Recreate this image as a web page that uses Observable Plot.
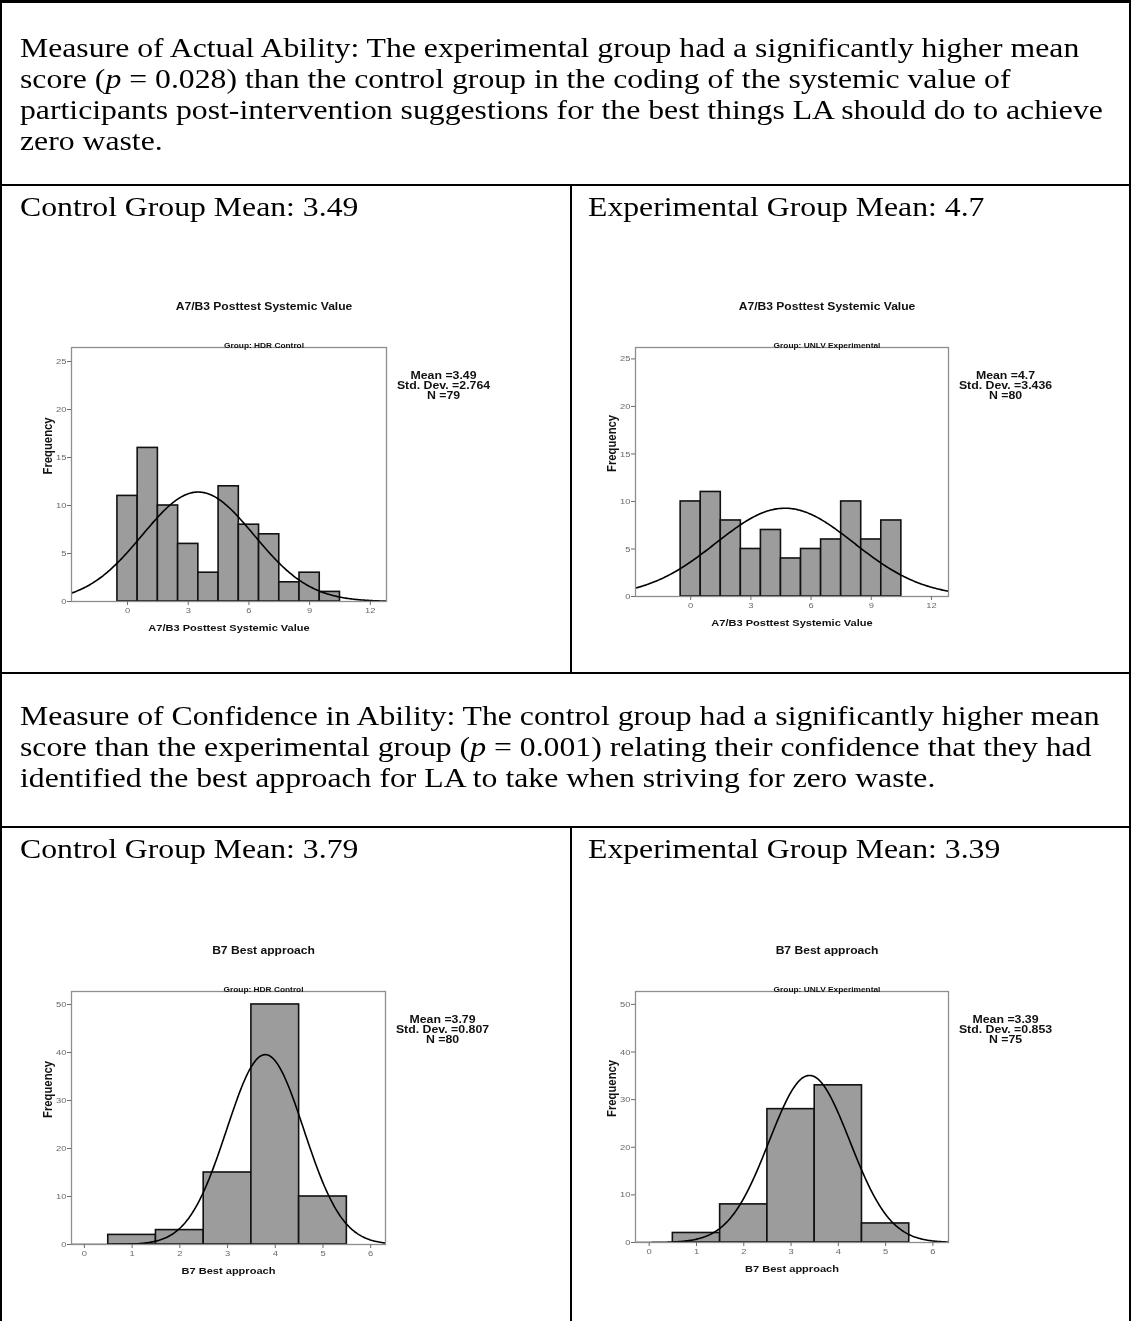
<!DOCTYPE html>
<html>
<head>
<meta charset="utf-8">
<script src="https://cdn.jsdelivr.net/npm/d3@7"></script>
<script src="https://cdn.jsdelivr.net/npm/@observablehq/plot@0.6"></script>
<style>
  html, body { margin: 0; padding: 0; background: #fff; }
  #page { position: relative; width: 1131px; height: 1321px; overflow: hidden;
          font-family: "Liberation Serif", "Times New Roman", serif; color: #000; }
  .rule { position: absolute; background: #000; }
  .txt { position: absolute; font-size: 27px; line-height: 31px; white-space: nowrap;
         transform: scaleX(1.175); transform-origin: 0 0; }
  .chart { position: absolute; filter: blur(0.3px); }
</style>
</head>
<body>
<div id="page"></div>
<script>
// Frequencies per score value
const systemicScores = [0, 1, 2, 3, 4, 5, 6, 7, 8, 9, 10];
const systemicControl = [11, 16, 10, 6, 3, 12, 8, 7, 2, 3, 1];
const systemicExperimental = [10, 11, 8, 5, 7, 4, 5, 6, 10, 6, 8];
const approachScores = [1, 2, 3, 4, 5];
const approachControl = [2, 3, 15, 50, 10];
const approachExperimental = [2, 8, 28, 33, 4];

// Summary statistics per group (control, experimental)
const groupNames = ["HDR Control", "UNLV Experimental"];
const systemicMean = [3.49, 4.7];
const systemicSD = [2.764, 3.436];
const approachMean = [3.79, 3.39];
const approachSD = [0.807, 0.853];

// Tick values
const systemicTicks = [0, 3, 6, 9, 12];
const approachTicks = [0, 1, 2, 3, 4, 5, 6];
const systemicFreqTicks = [0, 5, 10, 15, 20, 25];
const approachFreqTicks = [0, 10, 20, 30, 40, 50];

// Chart text is drawn slightly wide, like the exported figures
const STRETCH = 1.175;

const page = document.getElementById("page");

function rule(x, y, w, h) {
  const d = document.createElement("div");
  d.className = "rule";
  Object.assign(d.style, {left: x + "px", top: y + "px", width: w + "px", height: h + "px"});
  page.appendChild(d);
}
function text(x, y, html) {
  const d = document.createElement("div");
  d.className = "txt";
  d.style.left = x + "px";
  d.style.top = y + "px";
  d.innerHTML = html;
  page.appendChild(d);
}

// Table layout
const R1 = 184, R2 = 672, R3 = 826, MID = 570;
rule(0, 0, 1131, 3);
rule(0, 0, 2, 1321);
rule(1129, 0, 2, 1321);
rule(0, R1, 1131, 2);
rule(0, R2, 1131, 2);
rule(0, R3, 1131, 2);
rule(MID, R1, 2, R2 - R1);
rule(MID, R3, 2, 1321 - R3);

text(20, 33,
  "Measure of Actual Ability: The experimental group had a significantly higher mean<br>" +
  "score (<i>p</i> = 0.028) than the control group in the coding of the systemic value of<br>" +
  "participants post-intervention suggestions for the best things LA should do to achieve<br>" +
  "zero waste.");
text(20, R1 + 8, "Control Group Mean: " + systemicMean[0]);
text(588, R1 + 8, "Experimental Group Mean: " + systemicMean[1]);
text(20, R2 + 29,
  "Measure of Confidence in Ability: The control group had a significantly higher mean<br>" +
  "score than the experimental group (<i>p</i> = 0.001) relating their confidence that they had<br>" +
  "identified the best approach for LA to take when striving for zero waste.");
text(20, R3 + 8, "Control Group Mean: " + approachMean[0]);
text(588, R3 + 8, "Experimental Group Mean: " + approachMean[1]);

// Widen every label of a chart horizontally around its own anchor
function stretchText(svg) {
  svg.querySelectorAll("text").forEach(t => {
    let tr = t.getAttribute("transform");
    if (!tr) {
      const x = t.getAttribute("x") || 0, y = t.getAttribute("y") || 0;
      t.removeAttribute("x");
      t.removeAttribute("y");
      tr = `translate(${x},${y})`;
    }
    t.setAttribute("transform", tr + (tr.includes("rotate") ? ` scale(1,${STRETCH})` : ` scale(${STRETCH},1)`));
  });
}

// SPSS-style histogram with fitted normal curve
function histogram({scores, counts, mean, sd, group, title, axisTitle, xDomain, yDomain, xTicks, yTicks, frame}) {
  const n = d3.sum(counts);
  const bins = scores.map((s, i) => ({x1: s - 0.5, x2: s + 0.5, count: counts[i]}));
  const steps = 240;
  const curve = d3.range(steps + 1).map(i => {
    const x = xDomain[0] + (xDomain[1] - xDomain[0]) * i / steps;
    return {x, y: n * Math.exp(-0.5 * ((x - mean) / sd) ** 2) / (sd * Math.sqrt(2 * Math.PI))};
  });
  const ml = 60, mt = 70, mr = 140, mb = 50;
  const fw = frame.x2 - frame.x1, fh = frame.y2 - frame.y1;
  const stats = `Mean =${mean}\nStd. Dev. =${sd}\nN =${n}`;
  const svg = Plot.plot({
    width: ml + fw + mr,
    height: mt + fh + mb,
    marginLeft: ml, marginTop: mt, marginRight: mr, marginBottom: mb,
    style: {fontFamily: "'Liberation Sans', Arial, sans-serif", background: "transparent", overflow: "visible"},
    x: {domain: xDomain},
    y: {domain: yDomain},
    marks: [
      Plot.rectY(bins, {x1: "x1", x2: "x2", y: "count", fill: "#9c9c9c", stroke: "#111", strokeWidth: 1.6}),
      Plot.line(curve, {x: "x", y: "y", stroke: "#000", strokeWidth: 1.6, clip: "frame"}),
      Plot.frame({stroke: "#8e8e8e", strokeWidth: 1.3}),
      Plot.axisX({ticks: xTicks, tickFormat: d => String(d), tickSize: 4, tickPadding: 2, fontSize: 8, color: "#6a6a6a", label: null}),
      Plot.axisY({ticks: yTicks, tickFormat: d => String(d), tickSize: 4, tickPadding: 1, fontSize: 8, color: "#6a6a6a", label: null}),
      Plot.text([title], {frameAnchor: "top", dx: 35, dy: -45, fontSize: 10.3, fontWeight: "bold", text: d => d, fill: "#111"}),
      Plot.text(["Group: " + group], {frameAnchor: "top", dx: 35, dy: -5, fontSize: 7.1, fontWeight: "bold", text: d => d, fill: "#111"}),
      Plot.text([stats], {frameAnchor: "top-right", dx: 57, dy: 38, fontSize: 10.5, lineHeight: 0.95, fontWeight: "bold", textAnchor: "middle", lineAnchor: "middle", text: d => d, fill: "#111"}),
      Plot.text(["Frequency"], {frameAnchor: "left", dx: -24, rotate: -90, fontSize: 11.3, fontWeight: "bold", text: d => d, fill: "#111"}),
      Plot.text([axisTitle], {frameAnchor: "bottom", dy: 29, fontSize: 9.4, fontWeight: "bold", text: d => d, fill: "#111"})
    ]
  });
  stretchText(svg);
  svg.classList.add("chart");
  svg.style.left = (frame.x1 - ml) + "px";
  svg.style.top = (frame.y1 - mt) + "px";
  page.appendChild(svg);
}

const systemicTitle = "A7/B3 Posttest Systemic Value";
const approachTitle = "B7 Best approach";

histogram({scores: systemicScores, counts: systemicControl, mean: systemicMean[0], sd: systemicSD[0],
  group: groupNames[0], title: systemicTitle, axisTitle: systemicTitle,
  xDomain: [-2.77, 12.8], yDomain: [0, 26.46], xTicks: systemicTicks, yTicks: systemicFreqTicks,
  frame: {x1: 71, x2: 386, y1: 347, y2: 601}});
histogram({scores: systemicScores, counts: systemicExperimental, mean: systemicMean[1], sd: systemicSD[1],
  group: groupNames[1], title: systemicTitle, axisTitle: systemicTitle,
  xDomain: [-2.75, 12.85], yDomain: [0, 26.2], xTicks: systemicTicks, yTicks: systemicFreqTicks,
  frame: {x1: 635, x2: 948, y1: 347, y2: 596}});
histogram({scores: approachScores, counts: approachControl, mean: approachMean[0], sd: approachSD[0],
  group: groupNames[0], title: approachTitle, axisTitle: approachTitle,
  xDomain: [-0.27, 6.31], yDomain: [0, 52.7], xTicks: approachTicks, yTicks: approachFreqTicks,
  frame: {x1: 71, x2: 385, y1: 991, y2: 1244}});
histogram({scores: approachScores, counts: approachExperimental, mean: approachMean[1], sd: approachSD[1],
  group: groupNames[1], title: approachTitle, axisTitle: approachTitle,
  xDomain: [-0.29, 6.33], yDomain: [0, 52.7], xTicks: approachTicks, yTicks: approachFreqTicks,
  frame: {x1: 635, x2: 948, y1: 991, y2: 1242}});
</script>
</body>
</html>
